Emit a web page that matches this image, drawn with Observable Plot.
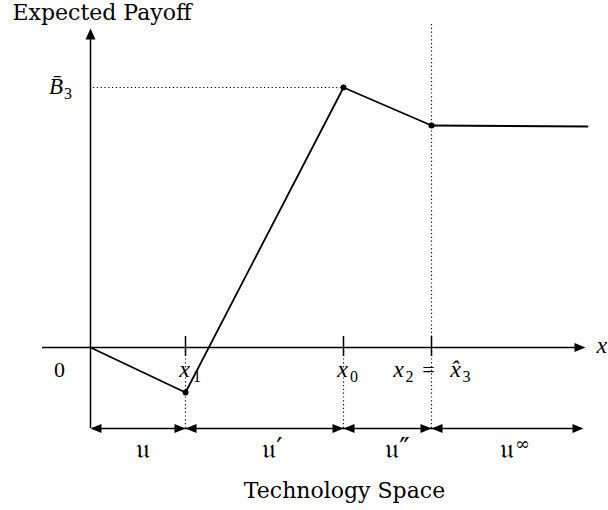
<!DOCTYPE html>
<html><head><meta charset="utf-8">
<script src="https://cdn.jsdelivr.net/npm/d3@7"></script>
<script src="https://cdn.jsdelivr.net/npm/@observablehq/plot@0.6"></script>
<style>body{margin:0;background:#fff}</style>
</head><body><div id="chart"></div>
<script>
// ---- data (arbitrary units) ----
const pointNames = ["origin", "x1", "x0", "x2", "end"];
const pointX = [0, 0.95, 2.53, 3.41, 4.97];
const payoff = [0, -0.45, 2.60, 2.22, 2.21];
const bBar3 = 2.60;
const markedPoints = ["x1", "x0", "x2"];
const regionLabels = ["𝔲", "𝔲′", "𝔲″", "𝔲"];
const regionSup = ["", "", "", "∞"];
const yTitle = "Expected Payoff";
const xTitle = "Technology Space";
const axisXLabel = "x";
const originLabel = "0";

const X = Object.fromEntries(pointNames.map((n, i) => [n, pointX[i]]));
const Y = Object.fromEntries(pointNames.map((n, i) => [n, payoff[i]]));
const curve = pointNames.map((n, i) => ({x: pointX[i], y: payoff[i]}));
const dots = markedPoints.map(n => ({x: X[n], y: Y[n]}));

// layout extents (axis geometry)
const xAxisLeft = -0.48, xAxisTip = 4.95, yAxisTip = 3.19, rowY = -0.81, rowTip = 4.93, dotTop = 3.25;
const PX = 0.01; // one pixel in x/y units

const serif = "DejaVu Serif";
const math = "Liberation Serif";
const mathSize = 24, subSize = 16, titleSize = 22, frakSize = 28;

const headRight = {draw(c){c.moveTo(0,0);c.lineTo(-11,-4.6);c.lineTo(-11,4.6);c.closePath();}};
const headLeft = {draw(c){c.moveTo(0,0);c.lineTo(11,-4.6);c.lineTo(11,4.6);c.closePath();}};
const headUp = {draw(c){c.moveTo(0,0);c.lineTo(-5,11);c.lineTo(5,11);c.closePath();}};

const bounds = [X.origin, X.x1, X.x0, X.x2];
const leftHeads = bounds.map(x => ({x, y: rowY}));
const rightHeads = [X.x1, X.x0, X.x2, rowTip].map(x => ({x, y: rowY}));
const regionCenters = [1.42, 2.72, 3.97, 5.06].map(v => v - 0.9); // px/100 -> units

// tick label pieces: [text, anchorX, dxPx, kind]  kind: "it" italic, "rm" upright, "sub" subscript
const tickPieces = [
  ["x", X.x1, -1, "it"], ["1", X.x1, 11.5, "sub"],
  ["x", X.x0, -1, "it"], ["0", X.x0, 10.5, "sub"],
  ["x", X.x2, -33, "it"], ["2", X.x2, -22, "sub"],
  ["=", X.x2, -3, "rm"],
  ["x\u0302", X.x2, 24, "it"], ["3", X.x2, 35, "sub"]
];
const labY = -0.29, subY = -0.345;

const textOpts = {fontFamily: serif, lineAnchor: "bottom", fill: "black"};
const mathOpts = {fontFamily: math, lineAnchor: "bottom", fill: "black"};
const pieceX = d => d[1] + d[2] * PX;

const plot = Plot.plot({
  width: 608, height: 510, margin: 0,
  x: {domain: [-0.9, 5.18], range: [0, 608], axis: null},
  y: {domain: [-1.63, 3.47], range: [510, 0], axis: null},
  marks: [
    // dotted guides
    Plot.ruleY([bBar3], {x1: 0.03, x2: X.x0, stroke: "black", strokeWidth: 1.2, strokeDasharray: "1.2,2.6"}),
    Plot.ruleX([X.x2], {y1: rowY, y2: dotTop, stroke: "black", strokeWidth: 1.2, strokeDasharray: "1.2,2.6"}),
    Plot.ruleX([X.x1, X.x0], {y1: rowY, y2: 0, stroke: "black", strokeWidth: 1.2, strokeDasharray: "1.2,2.6"}),
    // axes
    Plot.ruleY([0], {x1: xAxisLeft, x2: xAxisTip - 0.05, stroke: "black", strokeWidth: 1.5}),
    Plot.ruleX([0], {y1: rowY, y2: yAxisTip - 0.05, stroke: "black", strokeWidth: 1.5}),
    Plot.ruleY([rowY], {x1: 0.02, x2: rowTip - 0.05, stroke: "black", strokeWidth: 1.5}),
    Plot.ruleX(markedPoints.map(n => X[n]), {y1: -0.09, y2: 0.11, stroke: "black", strokeWidth: 1.5}),
    Plot.dot([{x: xAxisTip, y: 0}], {x: "x", y: "y", symbol: headRight, r: 5, fill: "black", stroke: "none"}),
    Plot.dot([{x: 0, y: yAxisTip}], {x: "x", y: "y", symbol: headUp, r: 5, fill: "black", stroke: "none"}),
    Plot.dot(leftHeads, {x: "x", y: "y", symbol: headLeft, r: 5, fill: "black", stroke: "none"}),
    Plot.dot(rightHeads, {x: "x", y: "y", symbol: headRight, r: 5, fill: "black", stroke: "none"}),
    // payoff curve
    Plot.line(curve, {x: "x", y: "y", stroke: "black", strokeWidth: 1.8}),
    Plot.dot(dots, {x: "x", y: "y", r: 3, fill: "black", stroke: "none"}),
    // tick labels
    Plot.text(tickPieces.filter(d => d[3] === "it"), {...mathOpts, x: pieceX, y: labY, text: d => d[0], fontSize: mathSize, fontStyle: "italic"}),
    Plot.text(tickPieces.filter(d => d[3] === "rm"), {...mathOpts, x: pieceX, y: labY, text: d => d[0], fontSize: 22}),
    Plot.text(tickPieces.filter(d => d[3] === "sub"), {...mathOpts, x: pieceX, y: subY, text: d => d[0], fontSize: subSize}),
    Plot.text([originLabel], {...mathOpts, x: -0.31, y: labY, text: d => d, fontSize: 22}),
    Plot.text([axisXLabel], {...mathOpts, x: 5.06, y: -0.05, text: d => d, fontStyle: "italic", fontSize: mathSize, textAnchor: "start"}),
    Plot.text(["B\u0304"], {...mathOpts, x: -0.345, y: 2.54, text: d => d, fontStyle: "italic", fontSize: 23}),
    Plot.text(["3"], {...mathOpts, x: -0.225, y: 2.485, text: d => d, fontSize: subSize}),
    // region labels
    Plot.text(regionLabels, {...textOpts, x: (d, i) => regionCenters[i], y: -1.10, text: d => d, fontSize: frakSize}),
    Plot.text(regionSup.filter(s => s), {...textOpts, x: regionCenters[3] + 0.16, y: -1.02, text: d => d, fontSize: 18}),
    // titles
    Plot.text([yTitle], {...textOpts, x: -0.78, y: 3.28, text: d => d, fontSize: titleSize, textAnchor: "start"}),
    Plot.text([xTitle], {...textOpts, x: 2.54, y: -1.50, text: d => d, fontSize: titleSize})
  ]
});
document.getElementById("chart").append(plot);
</script>
</body></html>
